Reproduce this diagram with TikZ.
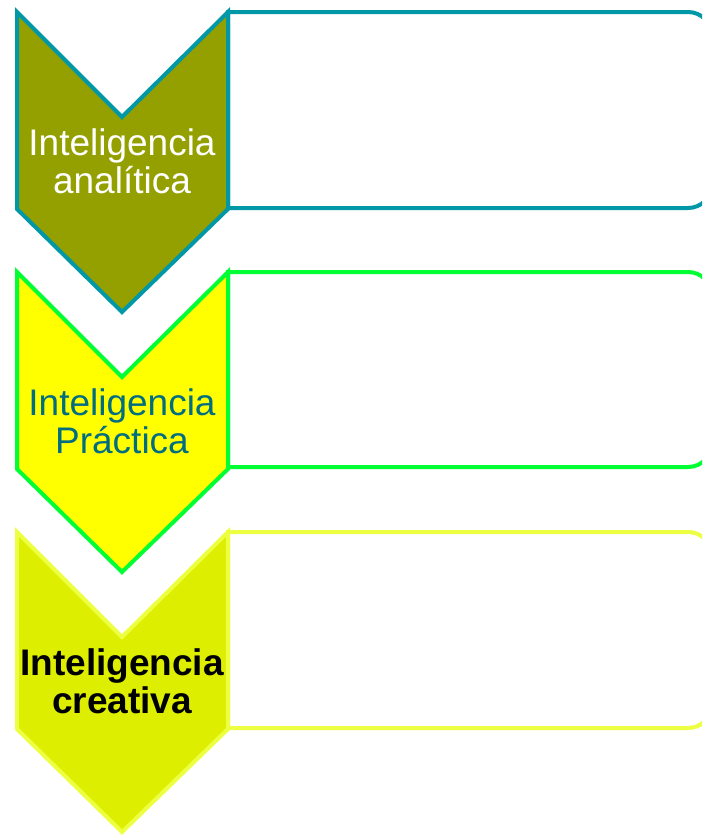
\documentclass[tikz,border=0pt]{standalone}
\usepackage{fontspec}
\setmainfont{Liberation Sans}
\definecolor{olive1}{RGB}{147,160,0}
\definecolor{teal1}{RGB}{0,151,167}
\definecolor{green2}{RGB}{0,255,51}
\definecolor{yellow2}{RGB}{255,255,0}
\definecolor{text2}{RGB}{0,110,128}
\definecolor{fill3}{RGB}{221,238,0}
\definecolor{stroke3}{RGB}{236,255,64}
\tikzset{
  chev/.style={line width=4pt, line join=miter},
  box/.style={line width=4pt, fill=white},
  lbl/.style={align=center, font=\fontsize{37}{38}\selectfont, inner sep=0pt, anchor=base}
}
\begin{document}
\begin{tikzpicture}[x=1pt,y=-1pt]
\useasboundingbox (0,0) rectangle (702,835);
\clip (0,0) rectangle (702,835);
% row 1
\draw[box, draw=teal1] (228,208) -- (228,12) [rounded corners=24pt] -- (712,12) -- (712,208) [sharp corners] -- (228,208) -- cycle;
\draw[chev, draw=teal1, fill=olive1] (17,12) -- (122,117) -- (228,12) -- (228,209) -- (122,312) -- (17,209) -- cycle;
\node[lbl, text=white] (t1) at (122,193) {Inteligencia\\analítica};
% row 2
\draw[box, draw=green2] (228,467) -- (228,272) [rounded corners=24pt] -- (712,272) -- (712,467) [sharp corners] -- (228,467) -- cycle;
\draw[chev, draw=green2, fill=yellow2] (17,272) -- (122,377) -- (228,272) -- (228,469) -- (122,572) -- (17,469) -- cycle;
\node[lbl, text=text2] (t2) at (122,453) {Inteligencia\\Práctica};
% row 3
\draw[box, draw=stroke3] (228,728) -- (228,532) [rounded corners=24pt] -- (712,532) -- (712,728) [sharp corners] -- (228,728) -- cycle;
\draw[chev, draw=stroke3, fill=fill3] (17,532) -- (122,637) -- (228,532) -- (228,729) -- (122,832) -- (17,729) -- cycle;
\node[lbl, text=black, font=\fontsize{37}{38}\selectfont\bfseries] (t3) at (122,713) {Inteligencia\\creativa};
\end{tikzpicture}
\end{document}
